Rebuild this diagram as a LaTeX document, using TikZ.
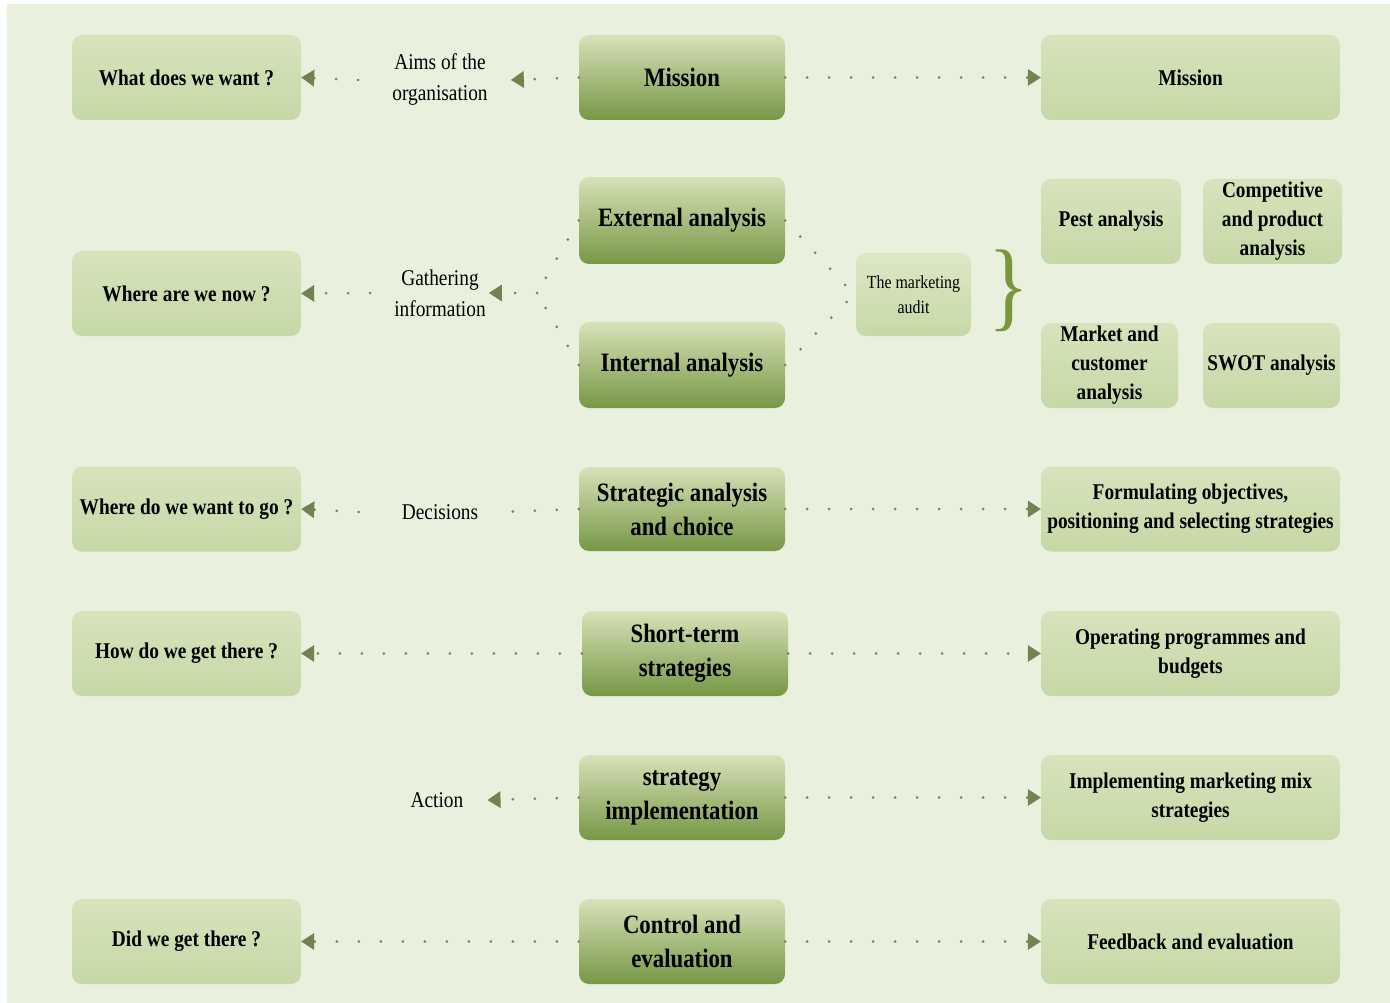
\documentclass[tikz,border=0pt]{standalone}
\usepackage{fontspec}
\setmainfont{Liberation Serif}[FakeStretch=0.86]
\usetikzlibrary{arrows.meta}

\definecolor{bgc}{HTML}{E9F1DE}
\definecolor{lighttop}{HTML}{D7E3BC}
\definecolor{lightbot}{HTML}{C6D8A6}
\definecolor{darktop}{HTML}{D6E2B8}
\definecolor{darkbot}{HTML}{779745}
\definecolor{dotc}{HTML}{76875C}
\definecolor{arrc}{HTML}{718351}
\definecolor{bracec}{HTML}{78973F}

\tikzset{
  box/.style={shape=rectangle, rounded corners=10pt, draw=none, align=center,
    inner xsep=2pt, inner ysep=1pt, minimum height=85pt},
  lightbox/.style={box, top color=lighttop, bottom color=lightbot,
    font=\fontsize{22.5}{29}\selectfont\bfseries},
  darkbox/.style={box, top color=darktop, bottom color=darkbot,
    minimum width=206pt, font=\fontsize{26.5}{34}\selectfont\bfseries},
  qbox/.style={lightbox, minimum width=229pt},
  rbox/.style={lightbox, minimum width=299pt},
  lbl/.style={align=center, inner sep=3pt, font=\fontsize{22.5}{31}\selectfont},
  dotline/.style={draw=dotc, line width=3pt, line cap=round, dash pattern=on 0pt off 22pt},
  conn/.style={dotline, -{Triangle[length=13pt, width=17pt, line width=0pt, fill=arrc, color=arrc]}},
}

\begin{document}
\begin{tikzpicture}[x=1pt, y=-1pt]
\useasboundingbox (0,0) rectangle (1390,1003);
\fill[bgc] (7,4) rectangle (1390,1003);

% questions (left column)
\node[qbox] (q1) at (186.5,77.5) {What does we want ?};
\node[qbox] (q2) at (186.5,293.5) {Where are we now ?};
\node[qbox] (q3) at (186.5,509) {Where do we want to go ?};
\node[qbox] (q4) at (186.5,653.5) {How do we get there ?};
\node[qbox] (q6) at (186.5,941.5) {Did we get there ?};

% stages (middle column)
\node[darkbox] (m1) at (682,77.5) {Mission};
\node[darkbox, minimum height=87pt] (ext) at (682,220.5) {External analysis};
\node[darkbox, minimum height=86pt] (int) at (682,365) {Internal analysis};
\node[darkbox, minimum height=84pt] (strat) at (682,509) {Strategic analysis\\and choice};
\node[darkbox] (short) at (685,653.5) {Short-term\\strategies};
\node[darkbox] (impl) at (682,797.5) {strategy\\implementation};
\node[darkbox] (ctrl) at (682,941.5) {Control and\\evaluation};

% labels between columns
\node[lbl] (aims) at (440,80) {Aims of the\\organisation};
\node[lbl] (gath) at (440,293) {Gathering\\information};
\node[lbl] (dec) at (440,512) {Decisions};
\node[lbl] (act) at (437,800) {Action};

% audit and its parts
\node[box, minimum height=83pt, minimum width=115pt, top color=lighttop!70!bgc, bottom color=lightbot,
  font=\fontsize{18.5}{25}\selectfont] (audit) at (913.5,294.5) {The marketing\\audit};
\node[text=bracec, inner sep=0pt, font=\fontsize{99}{99}\selectfont] (brace) at (1009,291) {\}};

\node[lightbox, minimum width=140pt] (pest) at (1111,221.5) {Pest analysis};
\node[lightbox, minimum width=139pt] (comp) at (1272.5,221.5) {Competitive\\and product\\analysis};
\node[lightbox, minimum width=137pt] (mkt) at (1109.5,365.5) {Market and\\customer\\analysis};
\node[lightbox, minimum width=137pt] (swot) at (1271.5,365.5) {SWOT analysis};

% outcomes (right column)
\node[rbox] (r1) at (1190.5,77.5) {Mission};
\node[rbox] (r3) at (1190.5,509) {Formulating objectives,\\positioning and selecting strategies};
\node[rbox] (r4) at (1190.5,653.5) {Operating programmes and\\budgets};
\node[rbox] (r5) at (1190.5,797.5) {Implementing marketing mix\\strategies};
\node[rbox] (r6) at (1190.5,941.5) {Feedback and evaluation};

% leftward connectors
\draw[conn] (m1.west) -- ([xshift=20pt]aims.east);
\draw[conn] ([xshift=-31pt]aims.west) -- (q1.east);

\coordinate (gj) at (537,293);
\draw[dotline] (ext.west) -- (gj);
\draw[dotline] (int.west) -- (gj);
\draw[conn] (gj) -- (gath.east);
\draw[conn] ([xshift=-21pt]gath.west) -- (q2.east);

\draw[dotline] (strat.west) -- ([xshift=20pt]dec.east);
\draw[conn] ([xshift=-40pt]dec.west) -- (q3.east);

\draw[conn] (short.west) -- (q4.east);
\draw[conn] (impl.west) -- ([xshift=21pt]act.east);
\draw[conn] (ctrl.west) -- (q6.east);

% towards the marketing audit
\draw[dotline] (ext.east) -- ([yshift=-2pt]audit.west);
\draw[dotline] (int.east) -- ([yshift=2pt]audit.west);

% rightward connectors
\draw[conn] (m1.east) -- (r1.west);
\draw[conn] (strat.east) -- (r3.west);
\draw[conn] (short.east) -- (r4.west);
\draw[conn] (impl.east) -- (r5.west);
\draw[conn] (ctrl.east) -- (r6.west);
\end{tikzpicture}
\end{document}
